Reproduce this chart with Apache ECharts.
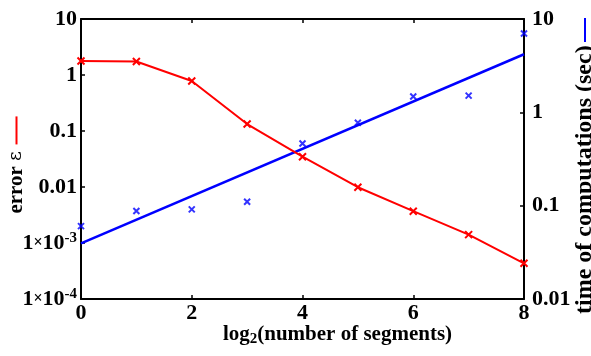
<!DOCTYPE html>
<html>
<head>
<meta charset="utf-8">
<script src="https://cdn.jsdelivr.net/npm/echarts@6/dist/echarts.min.js"></script>
<style>html,body{margin:0;padding:0;background:#fff}#c{width:591px;height:356px}</style>
</head>
<body>
<div id="c"></div>
<script>
// x = log2(number of segments)
const xValues = [0, 1, 2, 3, 4, 5, 6, 7, 8];
// error ε (left, log axis)
const errorValues = [1.78, 1.74, 0.78, 0.133, 0.0348, 0.0099, 0.0037, 0.00141, 0.000434];
// time of computations in sec (right, log axis) – measured points
const timeValues = [0.0604, 0.0875, 0.0912, 0.110, 0.464, 0.774, 1.48, 1.51, 7.0];
// fitted trend line for time (endpoints)
const fitX = [0, 8];
const fitValues = [0.0394, 4.19];
// tick labels
const xTickLabels = ['0', '2', '4', '6', '8'];
const leftTickLabels = {'-4': '{n|1}{x|×}{n|10}{s|-4}', '-3': '{n|1}{x|×}{n|10}{s|-3}', '-2': '0.01', '-1': '0.1', '0': '1', '1': '10'};
const rightTickLabels = {'-2': '0.01', '-1': '0.1', '0': '1', '1': '10'};

const FONT = '"Liberation Serif", "DejaVu Serif", serif';
const W = 'bold';
const chart = echarts.init(document.getElementById('c'), null, {renderer: 'canvas'});
const xMark = 'path://M0,0L10,10M0,10L10,0';
const axisLine = {show: true, onZero: false, lineStyle: {color: '#000', width: 2}};
const rich = {
  n: {fontFamily: FONT, fontWeight: W, fontSize: 22, color: '#000'},
  x: {fontFamily: FONT, fontWeight: W, fontSize: 16, color: '#000'},
  s: {fontFamily: FONT, fontWeight: W, fontSize: 15, color: '#000', padding: [0, 0, 10, 0]}
};
chart.setOption({
  animation: false,
  backgroundColor: '#fff',
  grid: {left: 81, right: 67, top: 19, bottom: 57, containLabel: false, outerBoundsMode: 'none'},
  xAxis: [{
    type: 'value', min: 0, max: 8, interval: 2,
    axisLine: axisLine,
    axisTick: {show: true, inside: true, length: 4, lineStyle: {color: '#000', width: 1.5}},
    splitLine: {show: false},
    axisLabel: {color: '#000', fontFamily: FONT, fontWeight: W, fontSize: 22, margin: 3,
      formatter: v => xTickLabels[Math.round(v / 2)]},
    name: '{a|log}{b|2}{a|(number of segments)}',
    nameLocation: 'middle', nameGap: 24, nameMoveOverlap: false,
    nameTextStyle: {padding: [0, 0, 0, 70], rich: {
      a: {fontFamily: FONT, fontWeight: W, fontSize: 21, color: '#000'},
      b: {fontFamily: FONT, fontWeight: W, fontSize: 15, color: '#000', padding: [9, 0, 0, 0]}
    }}
  }, {
    type: 'value', min: 0, max: 8, interval: 2, position: 'top',
    axisLine: axisLine,
    axisTick: {show: true, inside: true, length: 4, lineStyle: {color: '#000', width: 1.5}},
    axisLabel: {show: false}, splitLine: {show: false}
  }],
  yAxis: [{
    type: 'log', logBase: 10, min: 0.0001, max: 10, interval: 1,
    position: 'left',
    axisLine: axisLine,
    axisTick: {show: true, inside: true, length: 4, lineStyle: {color: '#000', width: 1.5}},
    minorTick: {show: false},
    splitLine: {show: false},
    axisLabel: {margin: 4, color: '#000', fontFamily: FONT, fontWeight: W, fontSize: 22, rich: rich,
      formatter: v => leftTickLabels[String(Math.round(Math.log10(v)))]},
    name: '{t|error }{e|ε}  {l|}',
    nameLocation: 'middle', nameRotate: 90, nameGap: 54, nameMoveOverlap: false,
    nameTextStyle: {padding: [0, 12, 0, 0], rich: {
      t: {fontFamily: FONT, fontWeight: W, fontSize: 21, color: '#000'},
      e: {fontFamily: '"DejaVu Serif", serif', fontSize: 19, color: '#000'},
      l: {width: 28, height: 2, backgroundColor: '#ff0000'}
    }}
  }, {
    type: 'log', logBase: 10, min: 0.01, max: 10, interval: 1,
    position: 'right',
    axisLine: axisLine,
    axisTick: {show: true, inside: true, length: 4, lineStyle: {color: '#000', width: 1.5}},
    minorTick: {show: false},
    splitLine: {show: false},
    axisLabel: {margin: 8, color: '#000', fontFamily: FONT, fontWeight: W, fontSize: 22,
      formatter: v => rightTickLabels[String(Math.round(Math.log10(v)))]},
    name: '{t|time of computations (sec)} {l|}',
    nameLocation: 'middle', nameRotate: 90, nameGap: 49, nameMoveOverlap: false,
    nameTextStyle: {padding: [0, 14, 0, 0], rich: {
      t: {fontFamily: FONT, fontWeight: W, fontSize: 24, color: '#000'},
      l: {width: 24, height: 2, backgroundColor: '#0000ff'}
    }}
  }],
  series: [{
    type: 'line', xAxisIndex: 0, yAxisIndex: 1,
    data: fitX.map((x, i) => [x, fitValues[i]]),
    showSymbol: false, symbol: 'none',
    lineStyle: {color: '#0000ff', width: 2.5}, z: 2
  }, {
    type: 'scatter', xAxisIndex: 0, yAxisIndex: 1,
    data: xValues.map((x, i) => [x, timeValues[i]]),
    symbol: xMark, symbolSize: 6,
    itemStyle: {color: '#0000ff', borderColor: '#0000ff', borderWidth: 2}, z: 3
  }, {
    type: 'line', xAxisIndex: 0, yAxisIndex: 0,
    data: xValues.map((x, i) => [x, errorValues[i]]),
    symbol: xMark, symbolSize: 7, showSymbol: true,
    lineStyle: {color: '#ff0000', width: 2},
    itemStyle: {color: '#ff0000', borderColor: '#ff0000', borderWidth: 2}, z: 4
  }]
});
</script>
</body>
</html>
